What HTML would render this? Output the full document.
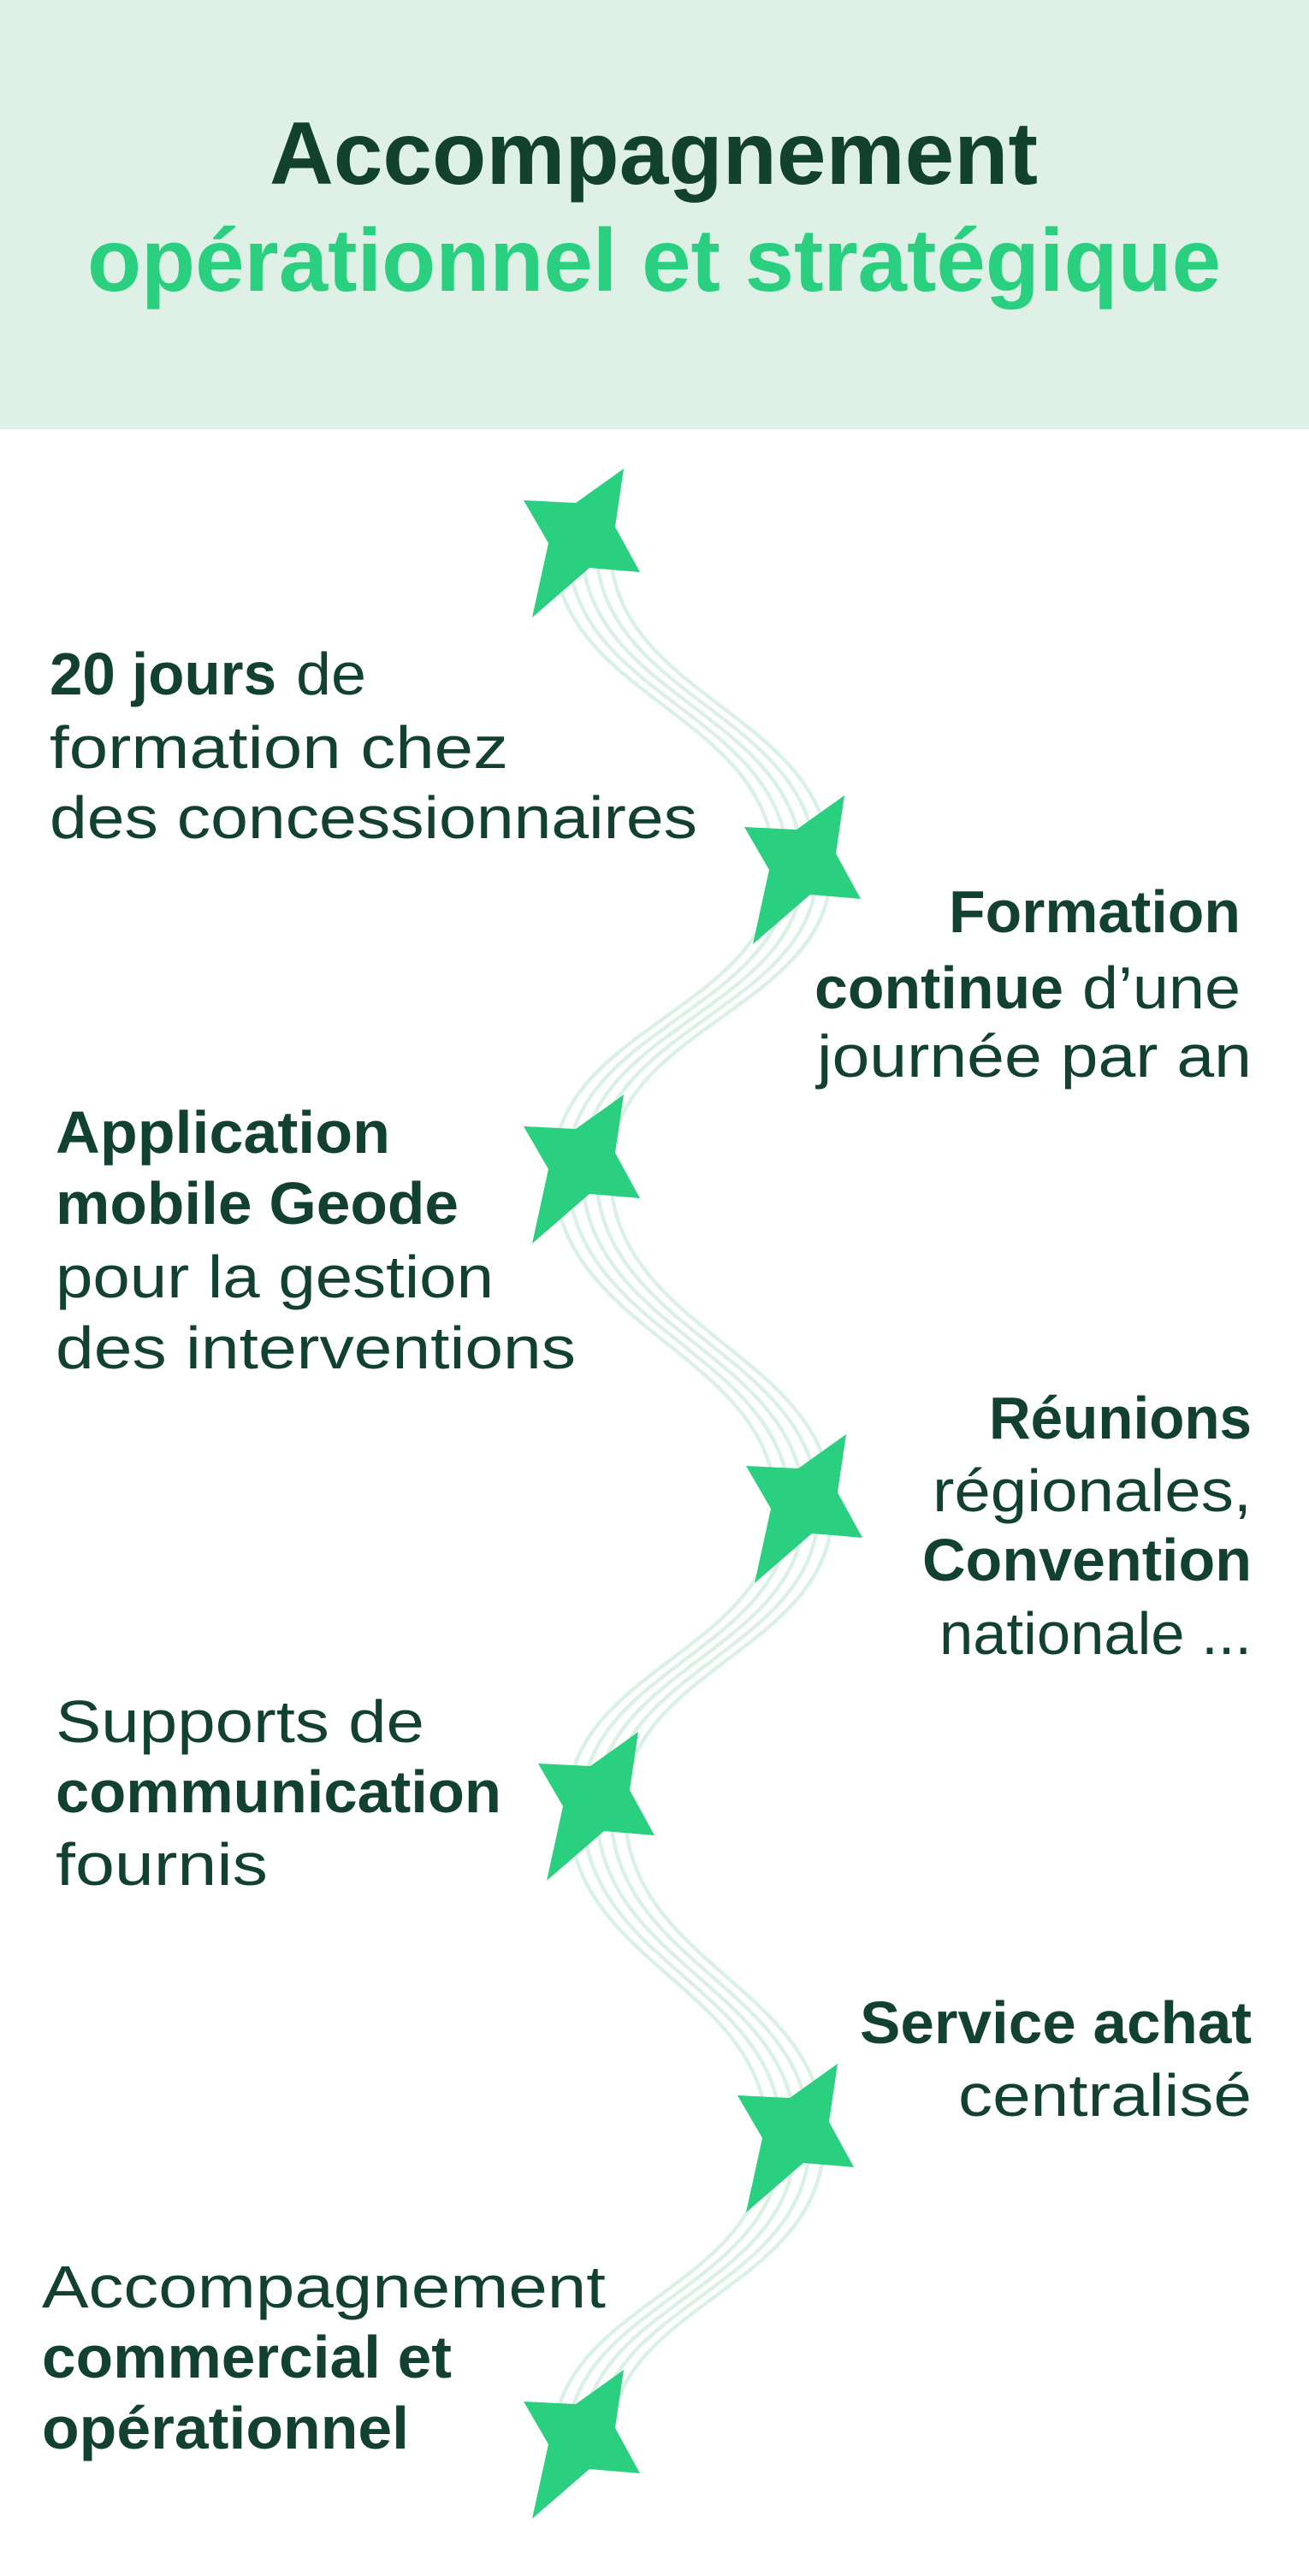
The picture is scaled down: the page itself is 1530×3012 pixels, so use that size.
<!DOCTYPE html>
<html><head><meta charset="utf-8"><style>
html,body{margin:0;padding:0;background:#fff;}
svg{display:block;}
text{font-family:"Liberation Sans",Arial,sans-serif;fill:#12412f;}
.b{font-weight:bold;}
</style></head><body>
<svg width="1530" height="3012" viewBox="0 0 1530 3012" xmlns="http://www.w3.org/2000/svg">
<rect x="0" y="0" width="1530" height="502" fill="#dff0e6"/>
<text class="b" x="315" y="215" font-size="104" textLength="898" lengthAdjust="spacingAndGlyphs">Accompagnement</text>
<text class="b" x="102" y="340" font-size="104" textLength="1325" lengthAdjust="spacingAndGlyphs" style="fill:#2ad07f">opérationnel et stratégique</text>

<g fill="none" stroke="#dcf1e6" stroke-width="4.5">
<path id="w0" d="M680,635 C680,820 938,830 938,1017 C938,1180 680,1200 680,1367 C680,1560 940,1580 940,1764 C940,1930 697,1950 697,2112 C697,2300 930,2320 930,2500 C930,2680 680,2690 680,2858"/>
<use href="#w0" x="-33"/><use href="#w0" x="-16.5"/><use href="#w0" x="16.5"/><use href="#w0" x="33"/>
</g>

<g fill="#2ad07f">
<path id="st" d="M-68,-50 L-7,-47 L49,-87 L39,-19 L68,34 L9,29 L-58,87 L-39,0 Z" transform="translate(680,635)"/>
<use href="#st" transform="translate(258,382)"/>
<use href="#st" transform="translate(0,732)"/>
<use href="#st" transform="translate(260,1129)"/>
<use href="#st" transform="translate(17,1477)"/>
<use href="#st" transform="translate(250,1865)"/>
<use href="#st" transform="translate(0,2223)"/>
</g>

<g font-size="70">
<text class="b" x="58" y="812" textLength="265" lengthAdjust="spacingAndGlyphs">20 jours</text>
<text x="346" y="812" textLength="82" lengthAdjust="spacingAndGlyphs">de</text>
<text x="58" y="898" textLength="536" lengthAdjust="spacingAndGlyphs">formation chez</text>
<text x="58" y="980" textLength="757" lengthAdjust="spacingAndGlyphs">des concessionnaires</text>

<text class="b" x="1109" y="1090" textLength="341" lengthAdjust="spacingAndGlyphs">Formation</text>
<text class="b" x="952" y="1179" textLength="291" lengthAdjust="spacingAndGlyphs">continue</text>
<text x="1265" y="1179" textLength="185" lengthAdjust="spacingAndGlyphs">d’une</text>
<text x="955" y="1259" textLength="508" lengthAdjust="spacingAndGlyphs">journée par an</text>

<text class="b" x="65" y="1348" textLength="391" lengthAdjust="spacingAndGlyphs">Application</text>
<text class="b" x="65" y="1431" textLength="471" lengthAdjust="spacingAndGlyphs">mobile Geode</text>
<text x="65" y="1517" textLength="512" lengthAdjust="spacingAndGlyphs">pour la gestion</text>
<text x="65" y="1600" textLength="608" lengthAdjust="spacingAndGlyphs">des interventions</text>

<text class="b" x="1156" y="1682" textLength="307" lengthAdjust="spacingAndGlyphs">Réunions</text>
<text x="1090" y="1767" textLength="373" lengthAdjust="spacingAndGlyphs">régionales,</text>
<text class="b" x="1078" y="1848" textLength="385" lengthAdjust="spacingAndGlyphs">Convention</text>
<text x="1098" y="1934" textLength="365" lengthAdjust="spacingAndGlyphs">nationale ...</text>

<text x="65" y="2037" textLength="431" lengthAdjust="spacingAndGlyphs">Supports de</text>
<text class="b" x="65" y="2119" textLength="521" lengthAdjust="spacingAndGlyphs">communication</text>
<text x="65" y="2204" textLength="248" lengthAdjust="spacingAndGlyphs">fournis</text>

<text class="b" x="1005" y="2389" textLength="458" lengthAdjust="spacingAndGlyphs">Service achat</text>
<text x="1120" y="2474" textLength="343" lengthAdjust="spacingAndGlyphs">centralisé</text>

<text x="49" y="2698" textLength="659" lengthAdjust="spacingAndGlyphs">Accompagnement</text>
<text class="b" x="49" y="2780" textLength="479" lengthAdjust="spacingAndGlyphs">commercial et</text>
<text class="b" x="49" y="2863" textLength="429" lengthAdjust="spacingAndGlyphs">opérationnel</text>
</g>
</svg>
</body></html>
